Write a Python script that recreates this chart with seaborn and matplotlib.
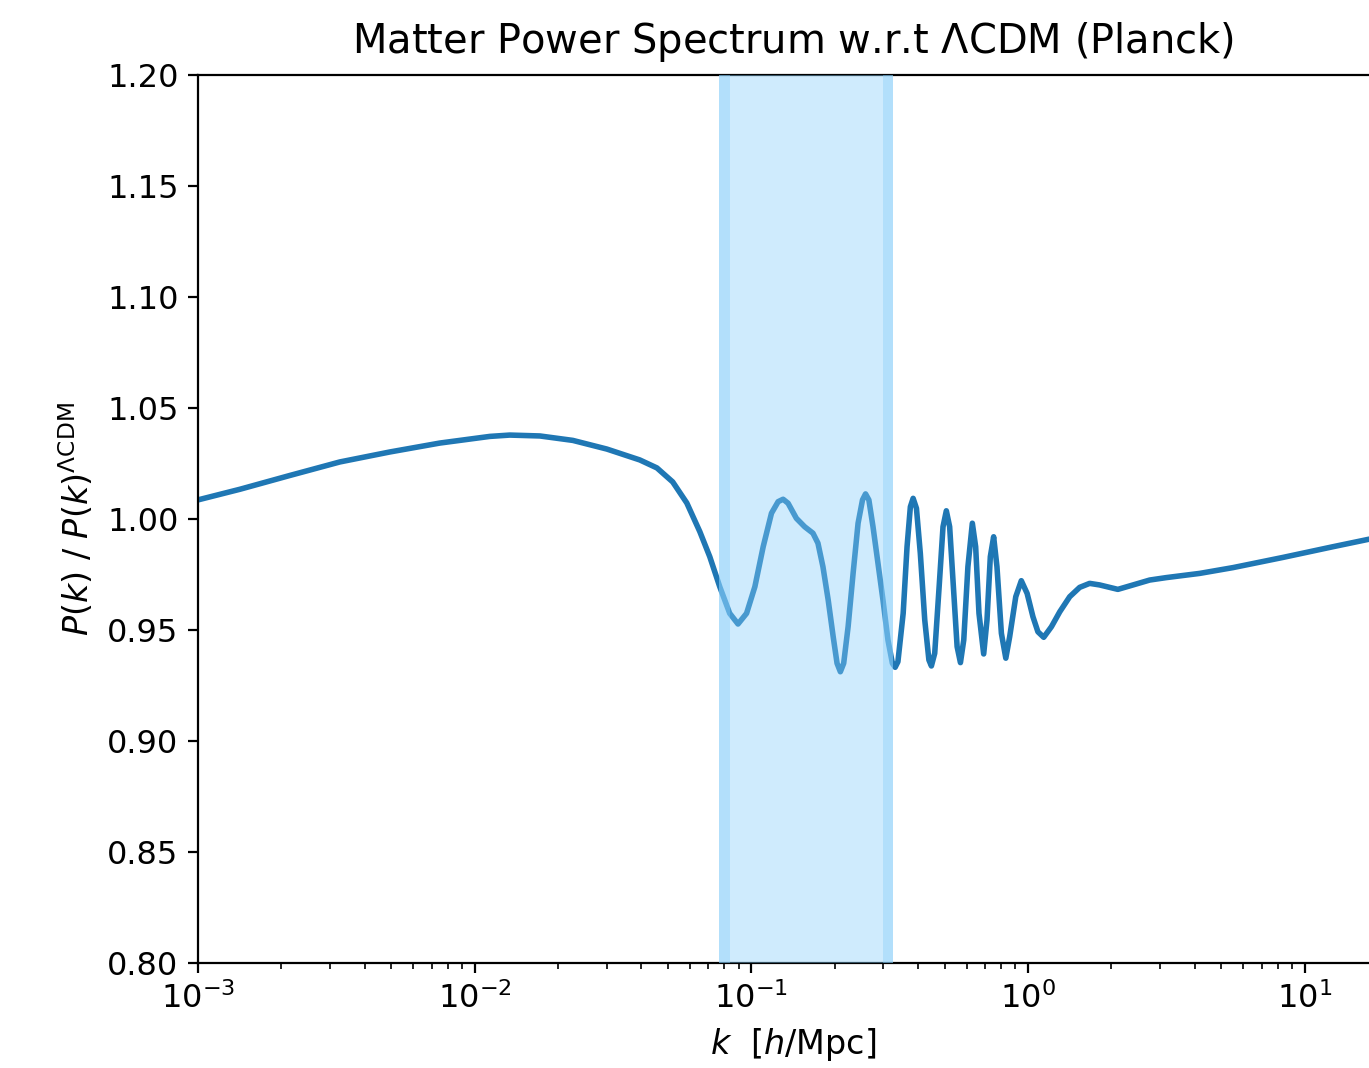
import numpy as np
import seaborn as sns
import matplotlib
matplotlib.use("Agg")
import matplotlib.pyplot as plt

# log10 of k [h/Mpc]
log10_k = [-3.000, -2.848, -2.668, -2.487, -2.306, -2.126, -1.945, -1.873, -1.764,
           -1.645, -1.522, -1.403, -1.341, -1.284, -1.233,
           -1.186, -1.150, -1.114, -1.078, -1.048, -1.017, -0.987, -0.957, -0.927,
           -0.903, -0.885, -0.867, -0.837, -0.807, -0.777, -0.759, -0.741, -0.722,
           -0.704, -0.690, -0.678, -0.666, -0.650, -0.632, -0.614, -0.598, -0.587,
           -0.575, -0.560, -0.542, -0.524, -0.506, -0.490, -0.480, -0.470, -0.451,
           -0.437, -0.425, -0.415, -0.403, -0.389, -0.373, -0.358, -0.349, -0.337,
           -0.321, -0.307, -0.295, -0.283, -0.268, -0.256, -0.244, -0.232, -0.217,
           -0.201, -0.189, -0.177, -0.160, -0.148, -0.136, -0.124, -0.112, -0.096,
           -0.080, -0.066, -0.044, -0.024, -0.003, 0.018, 0.036, 0.057, 0.085,
           0.115, 0.151, 0.187, 0.223, 0.259, 0.325, 0.380, 0.440, 0.500, 0.621,
           0.741, 0.922, 1.102, 1.229, 1.301]
# P(k) / P(k)^LCDM
ratio = [1.0086, 1.0134, 1.0196, 1.0257, 1.0302, 1.0342, 1.0372, 1.0378, 1.0374,
         1.0354, 1.0315, 1.0266, 1.0230, 1.0167, 1.0072,
         0.9943, 0.9830, 0.9695, 0.9575, 0.9527, 0.9575, 0.9695, 0.9875, 1.0026,
         1.0078, 1.0089, 1.0071, 1.0003, 0.9965, 0.9936, 0.9891, 0.9785, 0.9635,
         0.9470, 0.9350, 0.9312, 0.9350, 0.9515, 0.9755, 0.9981, 1.0086, 1.0113,
         1.0086, 0.9965, 0.9800, 0.9635, 0.9455, 0.9350, 0.9332, 0.9357, 0.9575,
         0.9875, 1.0055, 1.0093, 1.0048, 0.9845, 0.9545, 0.9365, 0.9338, 0.9395,
         0.9695, 0.9965, 1.0037, 0.9965, 0.9665, 0.9425, 0.9353, 0.9455, 0.9785,
         0.9981, 0.9875, 0.9575, 0.9392, 0.9545, 0.9830, 0.9920, 0.9785, 0.9485,
         0.9373, 0.9470, 0.9650, 0.9722, 0.9665, 0.9560, 0.9492, 0.9467, 0.9515,
         0.9582, 0.9650, 0.9692, 0.9710, 0.9703, 0.9683, 0.9703, 0.9725, 0.9736, 0.9755,
         0.9781, 0.9827, 0.9875, 0.9908, 0.9925]

# shaded k-range [h/Mpc] and its darker border strips
band = [0.0766, 0.324]
band_edges = [(0.0766, 0.084), (0.299, 0.324)]

k = 10 ** np.array(log10_k)

fig = plt.figure(figsize=(6.845, 5.34), dpi=200)
ax = fig.add_axes([0.1446, 0.0983, 0.8692, 0.8315])

sns.lineplot(x=k, y=ratio, ax=ax, color="#1f77b4", linewidth=2.0, sort=False)
ax.axvspan(band[0], band[1], color="lightskyblue", alpha=0.4, lw=0, zorder=3)
for lo, hi in band_edges:
    ax.axvspan(lo, hi, color="lightskyblue", alpha=0.4, lw=0, zorder=3)

ax.set_xscale("log")
ax.set_xlim(1e-3, 20)
ax.set_ylim(0.80, 1.20)
yt = np.arange(0.80, 1.2001, 0.05)
ax.set_yticks(yt)
ax.set_yticklabels([f"{t:.2f}" for t in yt])

ax.set_title(r"Matter Power Spectrum w.r.t $\Lambda$CDM (Planck)", fontsize=14.4, pad=8)
ax.set_xlabel(r"$k$  [$h$/Mpc]", fontsize=12)
ax.set_ylabel(r"$P(k)$ / $P(k)^{\Lambda\mathrm{CDM}}$", fontsize=12)
ax.tick_params(labelsize=11.5)

fig.savefig("out.png", dpi=200)
